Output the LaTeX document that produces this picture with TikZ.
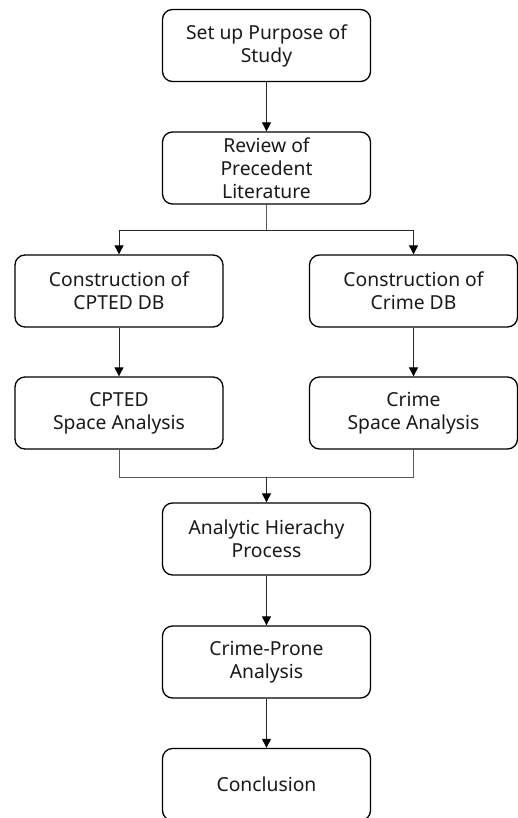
\documentclass[tikz,border=0pt]{standalone}
\usepackage{fontspec}
\setmainfont{Noto Sans}
\usetikzlibrary{arrows.meta}
\tikzset{
	stagebox/.style={draw=black, line width=1.3pt, rounded corners=10pt, minimum width=208pt, minimum height=72pt, align=center, font=\fontsize{19.3}{23}\selectfont, text=black!90, inner sep=2pt},
	flow/.style={draw=black!65, line width=0.9pt},
	flowarrow/.style={draw=black!85, line width=0.9pt, -{Triangle[length=9pt, width=9pt, color=black]}}
}

\begin{document}
\begin{tikzpicture}[x=1pt, y=-1pt]
		%%%%% START %%%%%
		
		\clip (0, 0) rectangle (518, 818);
		
		\node[stagebox] (purpose) at (266.5, 45.5) {Set up Purpose of\\Study};
		\node[stagebox] (review) at (266.5, 168) {Review of\\Precedent\\Literature};
		
		\node[stagebox] (cptedDB) at (119, 291) {Construction of\\CPTED DB};
		\node[stagebox] (crimeDB) at (413.5, 291) {Construction of\\Crime DB};
		\node[stagebox] (cptedSpace) at (119, 413) {CPTED\\Space Analysis};
		\node[stagebox] (crimeSpace) at (413.5, 413) {Crime\\Space Analysis};
		
		\node[stagebox] (ahp) at (266.5, 539) {Analytic Hierachy\\Process};
		\node[stagebox] (prone) at (266.5, 662) {Crime-Prone\\Analysis};
		\node[stagebox] (conclusion) at (266.5, 784.5) {Conclusion};
		
		\coordinate (split) at (266.5, 230);
		\coordinate (merge) at (266.5, 477);
		
		\draw[flowarrow] (purpose) -- (review);
		
		\draw[flow] (review) -- (split);
		\draw[flowarrow] (split) -| (cptedDB);
		\draw[flowarrow] (split) -| (crimeDB);
		
		\draw[flowarrow] (cptedDB) -- (cptedSpace);
		\draw[flowarrow] (crimeDB) -- (crimeSpace);
		
		\draw[flow] (cptedSpace) |- (merge);
		\draw[flow] (crimeSpace) |- (merge);
		\draw[flowarrow] (merge) -- (ahp);
		
		\draw[flowarrow] (ahp) -- (prone);
		\draw[flowarrow] (prone) -- (conclusion);
		
		%%%%% END %%%%%
\end{tikzpicture}
\end{document}
